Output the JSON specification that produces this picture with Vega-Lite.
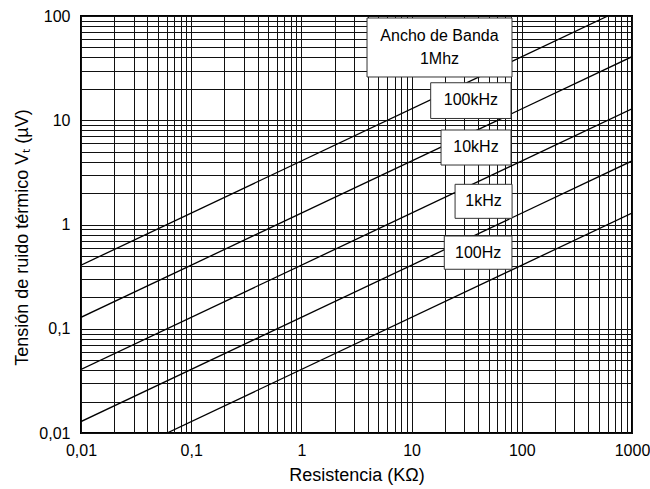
{
  "$schema": "https://vega.github.io/schema/vega-lite/v6.json",
  "width": 551,
  "height": 417,
  "autosize": {"type": "none"},
  "padding": {"left": 81, "top": 16, "right": 18, "bottom": 56},
  "background": "white",
  "config": {
    "font": "Liberation Sans",
    "view": {"stroke": "black", "strokeWidth": 2},
    "axis": {
      "domain": false,
      "ticks": false,
      "grid": true,
      "gridColor": "#111",
      "gridWidth": 1,
      "gridOpacity": 1,
      "labelFont": "Liberation Sans",
      "labelFontSize": 16,
      "labelColor": "black",
      "labelOverlap": false,
      "labelFlush": false,
      "titleFont": "Liberation Sans",
      "titleFontSize": 18,
      "titleFontWeight": "normal",
      "titleColor": "black"
    }
  },
  "datasets": {
    "lines": [
      {"bw": "1MHz", "R": 0.01, "V": 0.407},
      {"bw": "1MHz", "R": 603.7, "V": 100},
      {"bw": "100kHz", "R": 0.01, "V": 0.1287},
      {"bw": "100kHz", "R": 1000, "V": 40.7},
      {"bw": "10kHz", "R": 0.01, "V": 0.0407},
      {"bw": "10kHz", "R": 1000, "V": 12.87},
      {"bw": "1kHz", "R": 0.01, "V": 0.01287},
      {"bw": "1kHz", "R": 1000, "V": 4.07},
      {"bw": "100Hz", "R": 0.0604, "V": 0.01},
      {"bw": "100Hz", "R": 1000, "V": 1.287}
    ],
    "boxes": [
      {"name": "1MHz", "xa": 3.94, "xb": 81.5, "ya": 95.7, "yb": 26.0},
      {"name": "100kHz", "xa": 14.9, "xb": 79.8, "ya": 22.9, "yb": 10.4},
      {"name": "10kHz", "xa": 18.5, "xb": 79.8, "ya": 8.06, "yb": 3.72},
      {"name": "1kHz", "xa": 24.8, "xb": 81.6, "ya": 2.43, "yb": 1.146},
      {"name": "100Hz", "xa": 19.8, "xb": 81.4, "ya": 0.776, "yb": 0.372}
    ],
    "labels": [
      {"txt": "Ancho de Banda", "xc": 17.9, "yc": 64.3},
      {"txt": "1Mhz", "xc": 17.9, "yc": 38.7},
      {"txt": "100kHz", "xc": 34.5, "yc": 15.5},
      {"txt": "10kHz", "xc": 38.4, "yc": 5.48},
      {"txt": "1kHz", "xc": 45.0, "yc": 1.67},
      {"txt": "100Hz", "xc": 40.2, "yc": 0.536}
    ]
  },
  "layer": [
    {
      "data": {"name": "lines"},
      "mark": {"type": "line", "color": "black", "strokeWidth": 1.3, "clip": true},
      "encoding": {
        "x": {
          "field": "R", "type": "quantitative",
          "title": "Resistencia (KΩ)",
          "scale": {"type": "log", "domain": [0.01, 1000], "nice": false},
          "axis": {
            "values": [0.01,0.02,0.03,0.04,0.05,0.06,0.07,0.08,0.09,0.1,0.2,0.3,0.4,0.5,0.6,0.7,0.8,0.9,1,2,3,4,5,6,7,8,9,10,20,30,40,50,60,70,80,90,100,200,300,400,500,600,700,800,900,1000],
            "labelExpr": "(datum.value == 0.01 || datum.value == 0.1 || datum.value == 1 || datum.value == 10 || datum.value == 100 || datum.value == 1000) ? replace(format(datum.value, '~g'), '.', ',') : ''",
            "labelPadding": 9,
            "titlePadding": 8
          }
        },
        "y": {
          "field": "V", "type": "quantitative",
          "title": "Tensión de ruido térmico Vₜ (µV)",
          "scale": {"type": "log", "domain": [0.01, 100], "nice": false},
          "axis": {
            "values": [0.01,0.02,0.03,0.04,0.05,0.06,0.07,0.08,0.09,0.1,0.2,0.3,0.4,0.5,0.6,0.7,0.8,0.9,1,2,3,4,5,6,7,8,9,10,20,30,40,50,60,70,80,90,100],
            "labelExpr": "(datum.value == 0.01 || datum.value == 0.1 || datum.value == 1 || datum.value == 10 || datum.value == 100) ? replace(format(datum.value, '~g'), '.', ',') : ''",
            "labelPadding": 11,
            "titlePadding": 7,
            "titleY": 221
          }
        },
        "detail": {"field": "bw"}
      }
    },
    {
      "data": {"name": "boxes"},
      "mark": {"type": "rect", "fill": "white", "stroke": "#333", "strokeWidth": 1},
      "encoding": {
        "x": {"field": "xa", "type": "quantitative", "title": "Resistencia (KΩ)"},
        "x2": {"field": "xb"},
        "y": {"field": "ya", "type": "quantitative", "title": "Tensión de ruido térmico Vₜ (µV)"},
        "y2": {"field": "yb"}
      }
    },
    {
      "data": {"name": "labels"},
      "mark": {"type": "text", "font": "Liberation Sans", "fontSize": 16, "color": "black", "align": "center", "baseline": "middle"},
      "encoding": {
        "x": {"field": "xc", "type": "quantitative", "title": "Resistencia (KΩ)"},
        "y": {"field": "yc", "type": "quantitative", "title": "Tensión de ruido térmico Vₜ (µV)"},
        "text": {"field": "txt"}
      }
    }
  ]
}
